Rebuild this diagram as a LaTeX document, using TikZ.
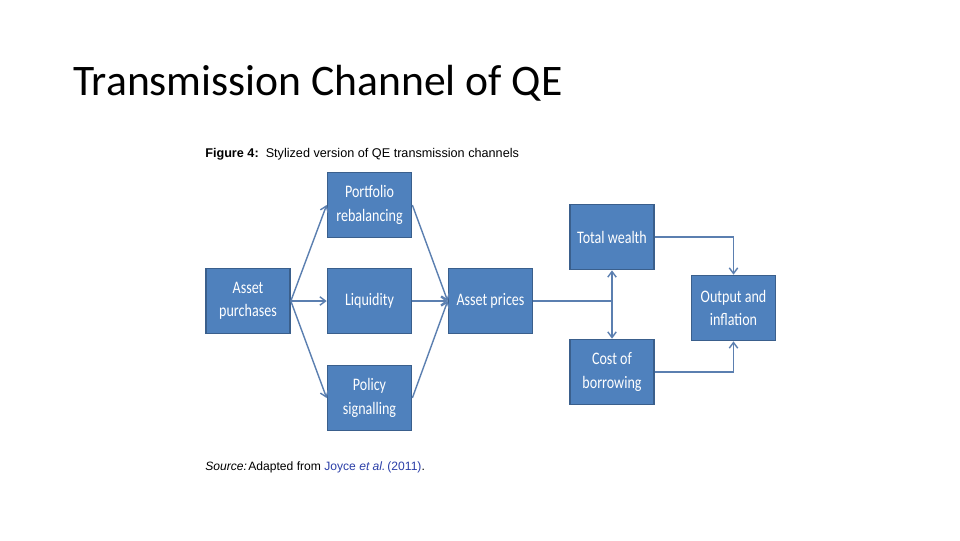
\documentclass[tikz,border=0pt]{standalone}
\usepackage{fontspec}
\setmainfont{Carlito}
\newfontfamily\arialfont{Liberation Sans}
\newfontfamily\boxfont[FakeStretch=0.8]{Carlito}
\usetikzlibrary{arrows.meta,positioning}
\definecolor{boxblue}{HTML}{4F81BD}
\definecolor{boxedge}{HTML}{3A5F8C}
\definecolor{linkblue}{HTML}{5B7FB0}
\definecolor{srcblue}{HTML}{2B3FA8}

\begin{document}
\begin{tikzpicture}[x=0.025cm,y=-0.025cm,
    chanbox/.style={draw=boxedge,fill=boxblue,line width=1.2pt,minimum width=84*0.025cm,
      minimum height=65*0.025cm,text=white,align=center,font=\boxfont\fontsize{12.5}{16.5}\selectfont,inner sep=1pt},
    link/.style={draw=linkblue,line width=1pt,-{Straight Barb[length=4pt,width=6pt]}}]
  \useasboundingbox[fill=white] (0,0) rectangle (960,540);
  % title
  \node[anchor=base west,inner sep=0,font=\fontsize{31}{36}\selectfont] (title) at (73,95)
      {Transmission Channel of QE};
  \node[anchor=base west,inner sep=0,font=\arialfont\fontsize{9}{11}\selectfont] (fig) at (205,157)
      {\textbf{Figure 4:}\ \ Stylized version of QE transmission channels};
  % boxes
  \node[chanbox] (purch) at (248,301)   {Asset\\purchases};
  \node[chanbox] (rebal) at (369.5,205) {Portfolio\\rebalancing};
  \node[chanbox] (liq)   at (369.5,301) {Liquidity};
  \node[chanbox] (signal) at (369.5,398) {Policy\\signalling};
  \node[chanbox] (prices) at (490.5,301) {Asset prices};
  \node[chanbox] (wealth) at (612,237)  {Total wealth};
  \node[chanbox] (borrow) at (612,372)  {Cost of\\borrowing};
  \node[chanbox] (output) at (733.5,308) {Output and\\inflation};
  \coordinate (split) at (612,301);
  % links
  \draw[link] (purch.east) -- (rebal.west);
  \draw[link] (purch.east) -- (liq.west);
  \draw[link] (purch.east) -- (signal.west);
  \draw[link] (rebal.east) -- (prices.west);
  \draw[link] (liq.east) -- (prices.west);
  \draw[link] (signal.east) -- (prices.west);
  \draw[link,-] (prices.east) -- (split);
  \draw[link] (split) -- (wealth.south);
  \draw[link] (split) -- (borrow.north);
  \draw[link] (wealth.east) -| (output.north);
  \draw[link] (borrow.east) -| (output.south);
  % source
  \node[anchor=base west,inner sep=0,font=\arialfont\fontsize{8.6}{10}\selectfont] (src) at (205,470)
      {\textit{Source:}\kern1pt Adapted from \textcolor{srcblue}{Joyce \textit{et al.}\kern-1pt\ (2011)}.};
\end{tikzpicture}
\end{document}
